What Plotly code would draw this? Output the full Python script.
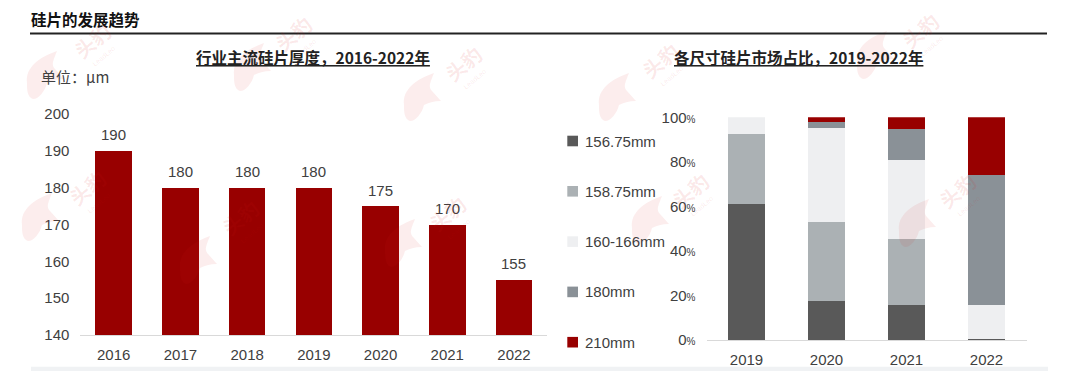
import plotly.graph_objects as go

W, H = 1080, 371
thick_years = ["2016", "2017", "2018", "2019", "2020", "2021", "2022"]
thickness = [190, 180, 180, 180, 175, 170, 155]
share_years = ["2019", "2020", "2021", "2022"]
s_15675 = [61, 17.7, 15.9, 0.4]
s_15875 = [31.5, 35.3, 29.3, 0]
s_160166 = [7.5, 42, 35.5, 15.5]
s_180 = [0, 2.9, 14.1, 58.2]
s_210 = [0, 2.1, 5.2, 25.9]
series_names = ["156.75mm", "158.75mm", "160-166mm", "180mm", "210mm"]
series_vals = [s_15675, s_15875, s_160166, s_180, s_210]
series_cols = ["#595959", "#ABB1B4", "#EEEFF1", "#8A9197", "#980000"]

LAT = "Liberation Sans, Noto Sans CJK SC, sans-serif"
CJK = "Noto Sans CJK SC, Liberation Sans, sans-serif"
TXT = "#404040"

def px(x): return x / W
def py(y): return 1 - y / H

fig = go.Figure()
fig.add_bar(x=thick_years, y=thickness, width=0.547, marker_color="#980000", marker_line_width=0,
            xaxis="x", yaxis="y", showlegend=False)
for n, v, c in zip(series_names, series_vals, series_cols):
    fig.add_bar(x=share_years, y=v, name=n, width=0.46, marker_color=c, marker_line_width=0,
                xaxis="x2", yaxis="y2", showlegend=False)
# invisible full-page axes: page furniture is placed on them in page pixels
fig.add_scatter(x=[0], y=[0], mode="none", xaxis="x3", yaxis="y3", showlegend=False, hoverinfo="skip")

ann = []
for i, v in enumerate(thickness):
    ann.append(dict(text=str(v), x=i, y=v, xref="x", yref="y", yshift=16, yanchor="middle", showarrow=False,
                    font=dict(family=LAT, size=15, color=TXT)))
page_ann = [
    dict(text="<b>硅片的发展趋势</b>", x=29, y=19, xanchor="left", font=dict(family=CJK, size=15.5, color="#111")),
    dict(text="<b><u>行业主流硅片厚度，2016-2022年</u></b>", x=312.5, y=57, xanchor="center",
         font=dict(family=CJK, size=15.5, color="#222")),
    dict(text="<b><u>各尺寸硅片市场占比，2019-2022年</u></b>", x=798, y=57, xanchor="center",
         font=dict(family=CJK, size=15.5, color="#222")),
    dict(text="单位：μm", x=39, y=76.5, xanchor="left", font=dict(family=CJK, size=15, color=TXT)),
]
shapes = [
    dict(type="line", x0=30, x1=1047, y0=33.5, y1=33.5, line=dict(color="#222", width=2)),
    dict(type="rect", x0=31, x1=1048, y0=366.7, y1=371, fillcolor="#F0F2F4", line_width=0),
]
legend_top, legend_step = 141, 50.3
for i, (n, c) in enumerate(zip(series_names, series_cols)):
    yc = legend_top + i * legend_step
    shapes.append(dict(type="rect", x0=567.3, x1=578, y0=yc - 5.3, y1=yc + 5.3, fillcolor=c, line_width=0))
    page_ann.append(dict(text=n, x=583, y=yc, xanchor="left", font=dict(family=LAT, size=15, color=TXT)))

# LeadLeo watermark: (wordmark centre x, y), (bear centre x, y)
wm_marks = [(92, 40, 45, 75), (293, 33, 252, 67), (87, 187, 40, 217), (240, 217, 198, 260), (463, 63, 422, 97),
            (660, 60, 617, 97), (447, 213, 403, 243), (690, 190, 650, 220), (920, 30, 875, 55),
            (957, 190, 917, 223)]
WM = "rgba(214,30,30,0.10)"
BEAR = "M -18,-8 C -20,8 -5,18 12,24 C 8,14 6,10 10,6 L 19,-4 C 12,-4 6,-6 2,-8 C 0,-16 -6,-24 -12,-24 C -18,-22 -18,-14 -18,-8 Z"
for tx, ty, bx, by in wm_marks:
    page_ann.append(dict(text="<b>头豹</b>", x=tx, y=ty, textangle=-40, font=dict(family=CJK, size=20, color=WM)))
    page_ann.append(dict(text="LeadLeo", x=tx + 11, y=ty + 16, textangle=-40, font=dict(family=LAT, size=7, color=WM)))
    shapes.append(dict(type="path", layer="below", xsizemode="pixel", ysizemode="pixel",
                       xanchor=bx, yanchor=by, path=BEAR, fillcolor="rgba(214,30,30,0.08)", line_width=0))
for a in page_ann:
    a.update(xref="x3", yref="y3", showarrow=False)
    a.setdefault("yanchor", "middle")
for s in shapes:
    s.update(xref="x3", yref="y3")
ann += page_ann

fig.update_layout(
    width=W, height=H, margin=dict(l=0, r=0, t=0, b=0, pad=0, autoexpand=False), autosize=False,
    paper_bgcolor="white", plot_bgcolor="rgba(0,0,0,0)", barmode="stack",
    annotations=ann, shapes=shapes, font=dict(family=LAT, color=TXT),
    xaxis=dict(type="category", domain=[px(80.35), px(547.35)], showline=True, linecolor="#D9D9D9", ticks="outside", ticklen=6,
               tickcolor="rgba(0,0,0,0)", anchor="y", tickfont=dict(size=15, color=TXT)),
    yaxis=dict(domain=[py(335), py(114)], range=[140, 200], dtick=10, showgrid=False, zeroline=False,
               tickfont=dict(size=15, color=TXT), ticks="outside", ticklen=7, tickcolor="rgba(0,0,0,0)", anchor="x"),
    xaxis2=dict(type="category", domain=[px(706.5), px(1026.5)], showline=True, linecolor="#D9D9D9", ticks="outside", ticklen=6,
                tickcolor="rgba(0,0,0,0)", anchor="y2", tickfont=dict(size=15, color=TXT)),
    yaxis2=dict(domain=[py(340), py(117.3)], range=[0, 100], dtick=20,
                ticksuffix='<span style="font-size:10px">%</span>', showgrid=False, zeroline=False,
                tickfont=dict(size=15, color=TXT), ticks="outside", ticklen=7, tickcolor="rgba(0,0,0,0)", anchor="x2"),
    xaxis3=dict(domain=[0, 1], range=[0, W], visible=False, fixedrange=True, anchor="y3"),
    yaxis3=dict(domain=[0, 1], range=[H, 0], visible=False, fixedrange=True, anchor="x3"),
)
fig.write_html("out.html", config=dict(displayModeBar=False),
               post_script="document.documentElement.style.overflow='hidden';document.body.style.margin='0';")
